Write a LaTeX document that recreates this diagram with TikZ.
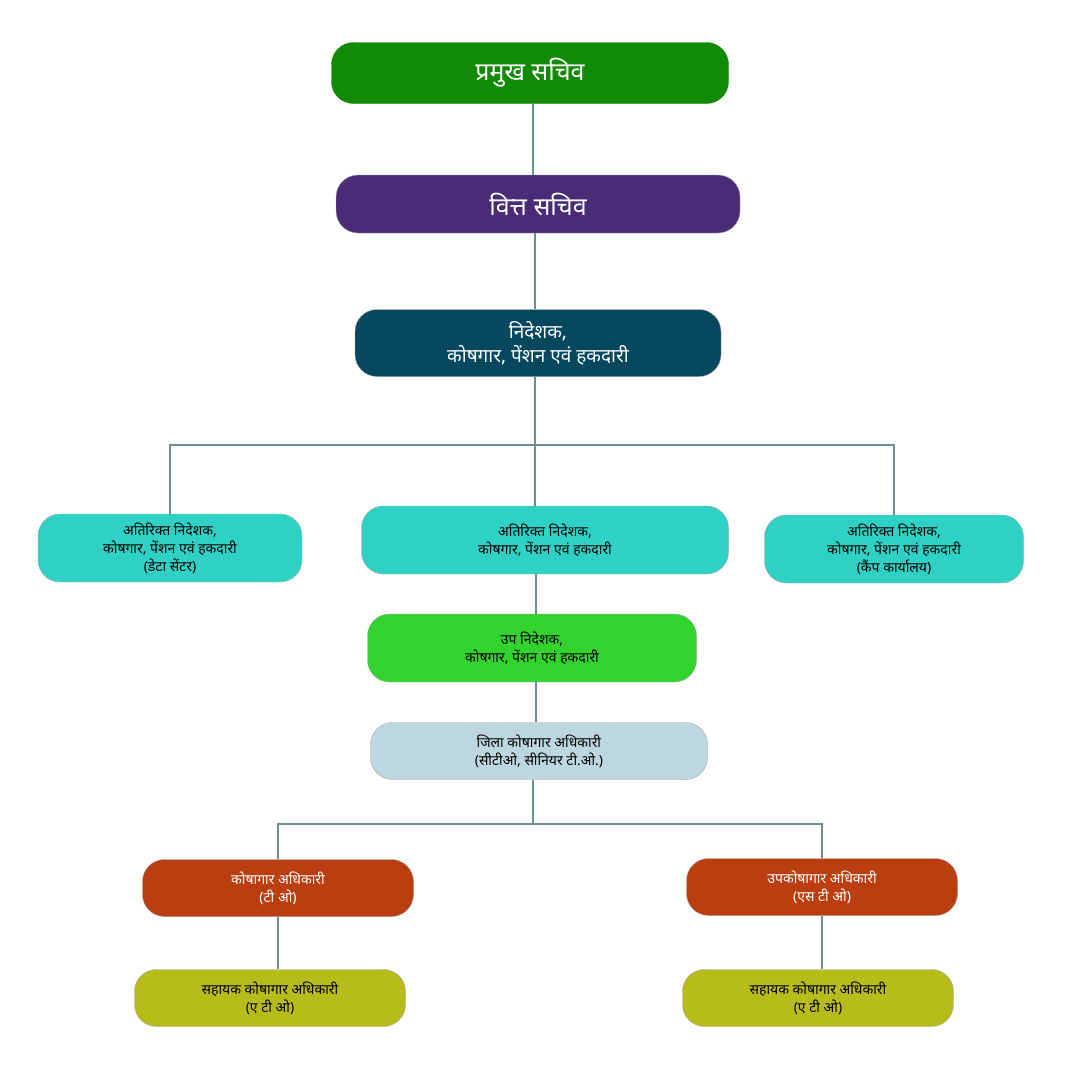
\documentclass[tikz,border=0pt]{standalone}
\usepackage{fontspec}
\setmainfont[Script=Devanagari]{Noto Sans}
\definecolor{cgreen}{HTML}{138A06}
\definecolor{cpurple}{HTML}{4A2C76}
\definecolor{cnavy}{HTML}{07485F}
\definecolor{cteal}{HTML}{2ED1C4}
\definecolor{clime}{HTML}{33D32E}
\definecolor{cblue}{HTML}{BDD7E0}
\definecolor{crust}{HTML}{BB3E10}
\definecolor{colive}{HTML}{B8BC1A}
\definecolor{cline}{HTML}{6E8B96}
\begin{document}
\begin{tikzpicture}[x=1pt,y=-1pt,
		box/.style={rounded corners=22pt,draw=gray!70,thin,align=center,inner sep=0pt},
		wire/.style={draw=cline,line width=1.4pt}]
		\useasboundingbox[fill=white] (0,0) rectangle (1080,1080);
		
		\node[box,fill=cgreen,draw=cgreen,text=white,minimum width=397pt,minimum height=61pt,font=\bfseries\fontsize{25}{30}\selectfont] (pramukh) at (530,73) {प्रमुख सचिव};
		\node[box,fill=cpurple,text=white,minimum width=404pt,minimum height=58pt,font=\bfseries\fontsize{25}{30}\selectfont] (vitt) at (538,204) {वित्त सचिव};
		\node[box,fill=cnavy,text=white,minimum width=366pt,minimum height=67pt,font=\fontsize{19}{24}\selectfont] (nideshak) at (538,343) {\textbf{निदेशक,}\\कोषगार, पेंशन एवं हकदारी};
		
		\node[box,fill=cteal,minimum width=264pt,minimum height=68pt,font=\fontsize{14}{18}\selectfont] (addlL) at (170,548) {\textbf{अतिरिक्त निदेशक,}\\कोषगार, पेंशन एवं हकदारी\\(डेटा सेंटर)};
		\node[box,fill=cteal,minimum width=367pt,minimum height=68pt,font=\fontsize{14}{18}\selectfont] (addlM) at (545,540) {\textbf{अतिरिक्त निदेशक,}\\कोषगार, पेंशन एवं हकदारी};
		\node[box,fill=cteal,minimum width=259pt,minimum height=68pt,font=\fontsize{14}{18}\selectfont] (addlR) at (894,549) {\textbf{अतिरिक्त निदेशक,}\\कोषगार, पेंशन एवं हकदारी\\(कैंप कार्यालय)};
		
		\node[box,fill=clime,minimum width=329pt,minimum height=68pt,font=\fontsize{14}{18}\selectfont] (upa) at (532,648) {\textbf{उप निदेशक,}\\कोषगार, पेंशन एवं हकदारी};
		\node[box,fill=cblue,minimum width=337pt,minimum height=57pt,font=\fontsize{14}{18}\selectfont] (zila) at (539,751) {\textbf{जिला कोषागार अधिकारी}\\\textbf{(}सीटीओ, सीनियर टी.ओ.\textbf{)}};
		
		\node[box,fill=crust,text=white,minimum width=271pt,minimum height=57pt,font=\bfseries\fontsize{14}{18}\selectfont] (koshL) at (278,888) {कोषागार अधिकारी\\(टी ओ)};
		\node[box,fill=crust,text=white,minimum width=271pt,minimum height=57pt,font=\bfseries\fontsize{14}{18}\selectfont] (koshR) at (822,887) {उपकोषागार अधिकारी\\(एस टी ओ)};
		\node[box,fill=colive,minimum width=271pt,minimum height=57pt,font=\bfseries\fontsize{14}{18}\selectfont] (sahL) at (270,998) {सहायक कोषागार अधिकारी\\(ए टी ओ)};
		\node[box,fill=colive,minimum width=271pt,minimum height=57pt,font=\bfseries\fontsize{14}{18}\selectfont] (sahR) at (818,998) {सहायक कोषागार अधिकारी\\(ए टी ओ)};
		
		\coordinate (busA) at (535,445);
		\coordinate (busB) at (533,824);
		
		\draw[wire] (pramukh.south -| 533,0) -- (vitt.north -| 533,0);
		\draw[wire] (vitt.south -| 535,0) -- (nideshak.north -| 535,0);
		\draw[wire] (nideshak.south -| busA) -- (addlM.north -| busA);
		\draw[wire] (addlL.north) |- (busA) -| (addlR.north);
		\draw[wire] (addlM.south -| 536,0) -- (upa.north -| 536,0);
		\draw[wire] (upa.south -| 536,0) -- (zila.north -| 536,0);
		\draw[wire] (zila.south -| busB) -- (busB);
		\draw[wire] (koshL.north) |- (busB) -| (koshR.north);
		\draw[wire] (koshL.south) -- (koshL.south |- sahL.north);
		\draw[wire] (koshR.south) -- (koshR.south |- sahR.north);
\end{tikzpicture}
\end{document}
